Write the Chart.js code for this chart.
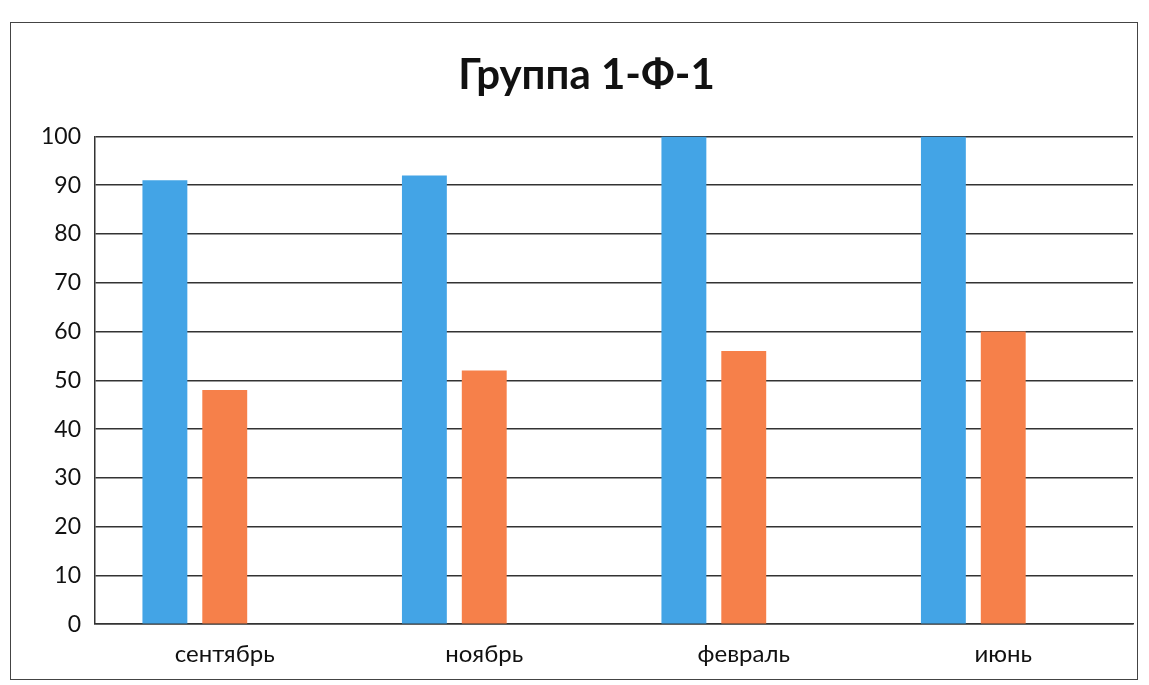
<!DOCTYPE html>
<html>
<head>
<meta charset="utf-8">
<script src="https://cdn.jsdelivr.net/npm/chart.js@4.4.1/dist/chart.umd.min.js"></script>
<style>
  html, body { margin: 0; padding: 0; background: #fff; }
  #wrap { position: relative; width: 1149px; height: 685px; }
  #frame { position: absolute; left: 10px; top: 22px; width: 1128px; height: 658px; border: 1.5px solid #444; box-sizing: border-box; pointer-events: none; }
  canvas { position: absolute; left: 0; top: 0; }
</style>
</head>
<body>
<div id="wrap">
  <canvas id="c" width="1149" height="685"></canvas>
  <div id="frame"></div>
</div>
<script>
const categories = ["сентябрь", "ноябрь", "февраль", "июнь"];
const series1 = [91, 92, 100, 100];
const series2 = [48, 52, 56, 60];
const series3 = [null, null, null, null];
const yTicks = [0, 10, 20, 30, 40, 50, 60, 70, 80, 90, 100];
const titleText = "Группа 1-Ф-1";

const FONT = "Lato, 'Open Sans', 'DejaVu Sans', sans-serif";

new Chart(document.getElementById("c"), {
  type: "bar",
  data: {
    labels: categories,
    datasets: [
      { label: "Ряд 1", data: series1, backgroundColor: "#43a4e6", borderWidth: 0 },
      { label: "Ряд 2", data: series2, backgroundColor: "#f6804a", borderWidth: 0 },
      { label: "Ряд 3", data: series3, backgroundColor: "#a5a5a5", borderWidth: 0 }
    ]
  },
  options: {
    responsive: false,
    animation: false,
    devicePixelRatio: 1,
    layout: { padding: { left: 40, right: 16, top: 0, bottom: 0 } },
    datasets: { bar: { categoryPercentage: 0.692, barPercentage: 0.75 } },
    plugins: {
      legend: { display: false },
      tooltip: { enabled: false },
      title: {
        display: true,
        text: titleText,
        color: "#111",
        font: { family: FONT, size: 42, weight: "bold" },
        padding: { top: 50, bottom: 36 }
      }
    },
    scales: {
      x: {
        grid: { display: false, drawTicks: false },
        border: { display: true, color: "#333", width: 1.5 },
        ticks: { color: "#111", font: { family: FONT, size: 24 }, padding: 16 }
      },
      y: {
        min: 0,
        max: 100,
        afterBuildTicks: (axis) => { axis.ticks = yTicks.map(v => ({ value: v })); },
        afterFit: (axis) => { axis.width = 55; },
        grid: { color: "#333", lineWidth: 1.5, drawTicks: false },
        border: { display: true, color: "#333", width: 1.5 },
        ticks: { color: "#111", font: { family: FONT, size: 23 }, padding: 14 }
      }
    }
  }
});
</script>
</body>
</html>
